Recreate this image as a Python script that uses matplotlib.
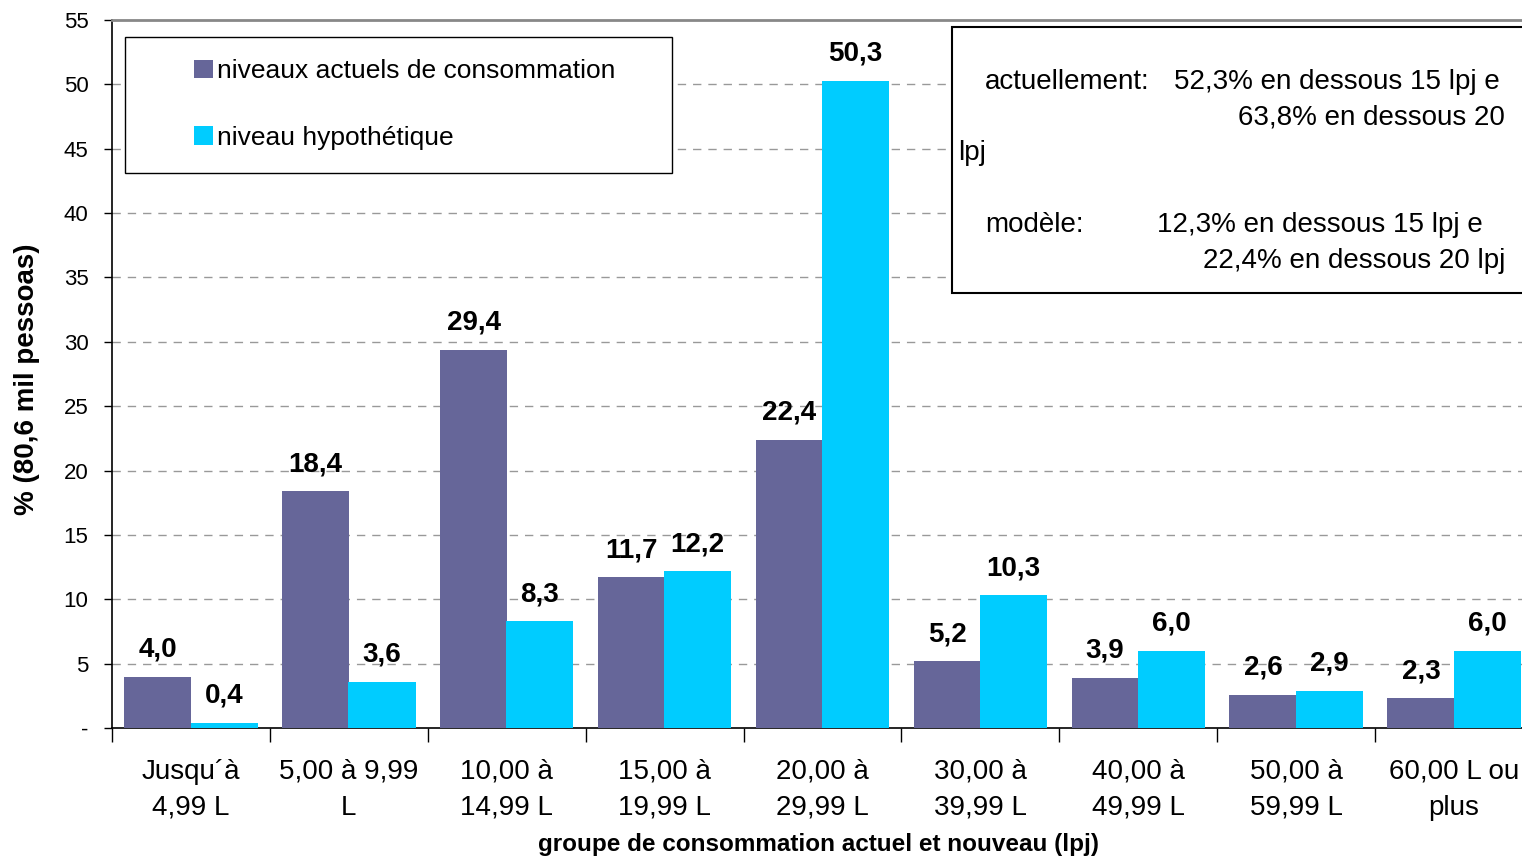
import matplotlib
matplotlib.use("Agg")
import matplotlib.pyplot as plt
from matplotlib.patches import Rectangle
import numpy as np

categories = ["Jusqu´à\n4,99 L", "5,00 à 9,99\nL", "10,00 à\n14,99 L", "15,00 à\n19,99 L",
              "20,00 à\n29,99 L", "30,00 à\n39,99 L", "40,00 à\n49,99 L", "50,00 à\n59,99 L",
              "60,00 L ou\nplus"]
actuel = [4.0, 18.4, 29.4, 11.7, 22.4, 5.2, 3.9, 2.6, 2.3]
hypothetique = [0.4, 3.6, 8.3, 12.2, 50.3, 10.3, 6.0, 2.9, 6.0]
series_names = ["niveaux actuels de consommation", "niveau hypothétique"]
yticks = [0, 5, 10, 15, 20, 25, 30, 35, 40, 45, 50, 55]
ytick_labels = ["-", "5", "10", "15", "20", "25", "30", "35", "40", "45", "50", "55"]

plt.rcParams['font.family'] = ['Liberation Sans', 'DejaVu Sans']

W, H = 1522, 859
fig = plt.figure(figsize=(W / 100, H / 100), dpi=100)

def fx(px):
    return px / W

def fy(py):
    return 1 - py / H

left, right, top, bottom = 112, 1533, 20, 728
ax = fig.add_axes([fx(left), fy(bottom), (right - left) / W, (bottom - top) / H])

purple = "#666699"
cyan = "#00CCFF"
x = np.arange(len(categories))
bw = 0.425
off = 0.21
b1 = ax.bar(x - off, actuel, width=bw, color=purple, label=series_names[0], zorder=3)
b2 = ax.bar(x + off, hypothetique, width=bw, color=cyan, label=series_names[1], zorder=3)

for bars, vals in ((b1, actuel), (b2, hypothetique)):
    for rect, v in zip(bars, vals):
        ax.annotate(f"{v:.1f}".replace(".", ","),
                    (rect.get_x() + rect.get_width() / 2, rect.get_height()),
                    xytext=(0, 10), textcoords="offset points",
                    ha="center", va="bottom", fontsize=20, fontweight="bold", zorder=4)

ax.set_xlim(-0.5, len(categories) - 0.5)
ax.set_ylim(0, 55)
ax.set_yticks(yticks)
ax.set_yticklabels(ytick_labels, fontsize=16)
ax.tick_params(axis="y", direction="out", length=6, width=1, pad=11)

ax.set_xticks(x)
ax.set_xticklabels(categories, fontsize=20, linespacing=1.5)
ax.tick_params(axis="x", which="major", length=0, pad=22)
ax.set_xticks(np.arange(-0.5, len(categories), 1.0), minor=True)
ax.tick_params(axis="x", which="minor", direction="out", length=10, width=1)

for yv in yticks[1:-1]:
    ax.axhline(yv, color="#999999", linestyle=(0, (6, 5)), linewidth=1, zorder=1)

ax.spines["right"].set_visible(False)
ax.spines["top"].set_color("#888888")
ax.spines["top"].set_linewidth(2)
ax.spines["left"].set_linewidth(1.2)
ax.spines["bottom"].set_linewidth(1.2)

ax.set_xlabel("groupe de consommation actuel et nouveau (lpj)", fontsize=17.5, fontweight="bold",
              va="center")
ax.xaxis.set_label_coords((818 - left) / (right - left), -(845 - bottom) / (bottom - top))
ax.set_ylabel("% (80,6 mil pessoas)", fontsize=20, fontweight="bold", va="center")
ax.yaxis.set_label_coords(-(112 - 27) / (right - left), (bottom - 379) / (bottom - top))

# legend box
fig.patches.append(Rectangle((fx(125), fy(173)), fx(672) - fx(125), fy(37) - fy(173),
                             transform=fig.transFigure, fill=True, facecolor="white",
                             edgecolor="black", linewidth=1, zorder=5))
leg = fig.legend(handles=[b1, b2], loc="upper left",
                 bbox_to_anchor=(fx(181), fy(46)), frameon=False, fontsize=19,
                 handlelength=0.7, handleheight=0.7, handletextpad=0.15,
                 labelspacing=1.62, borderpad=0)
leg.set_zorder(6)

# annotation box
fig.patches.append(Rectangle((fx(952), fy(293)), fx(1540) - fx(952), fy(27) - fy(293),
                             transform=fig.transFigure, fill=True, facecolor="white",
                             edgecolor="black", linewidth=1.5, zorder=5))
tkw = dict(fontsize=20, zorder=7, va="center")
fig.text(fx(985), fy(82), "actuellement:", ha="left", **tkw)
fig.text(fx(1500), fy(82), "52,3% en dessous 15 lpj e", ha="right", **tkw)
fig.text(fx(1505), fy(118), "63,8% en dessous 20", ha="right", **tkw)
fig.text(fx(958), fy(153), "lpj", ha="left", **tkw)
fig.text(fx(985), fy(225), "modèle:", ha="left", **tkw)
fig.text(fx(1483), fy(225), "12,3% en dessous 15 lpj e", ha="right", **tkw)
fig.text(fx(1505), fy(261), "22,4% en dessous 20 lpj", ha="right", **tkw)

fig.savefig("out.png", dpi=100)
